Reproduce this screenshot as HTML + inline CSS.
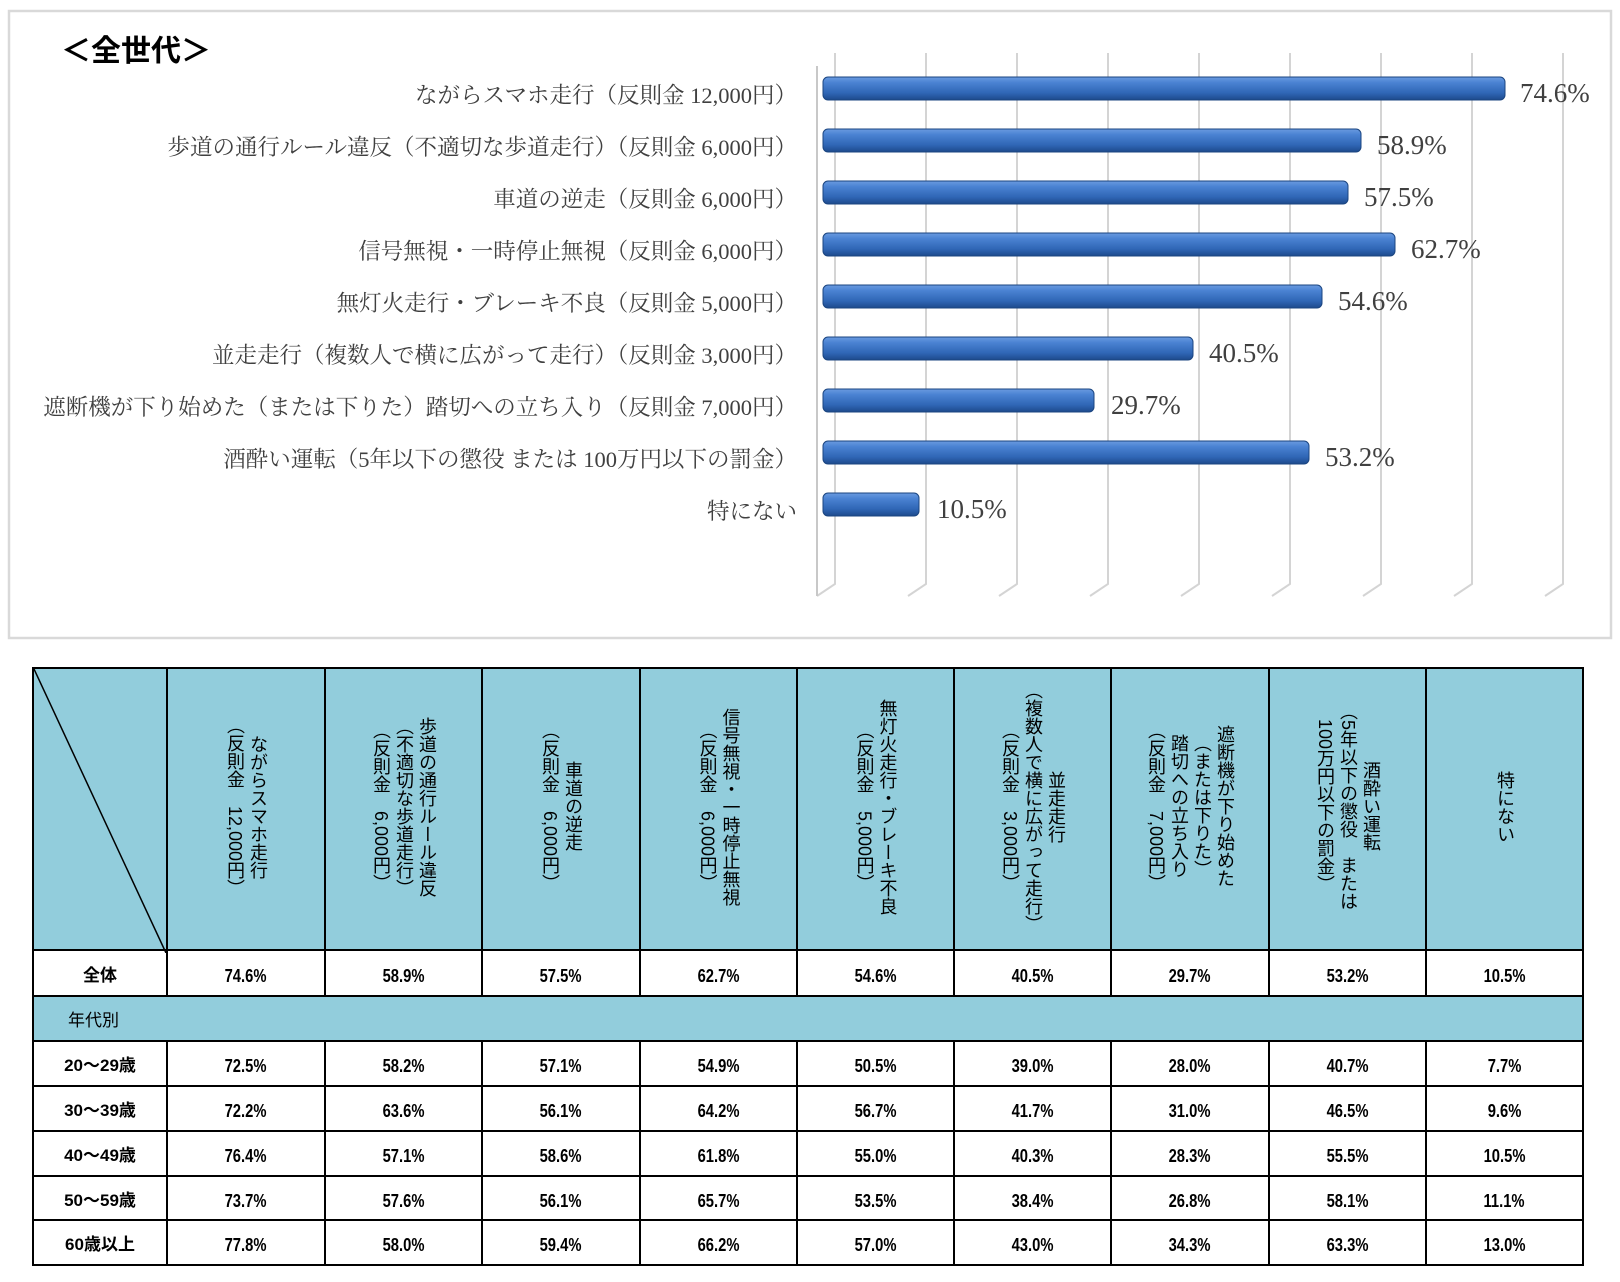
<!DOCTYPE html>
<html><head><meta charset="utf-8"><style>
body{margin:0;width:1620px;height:1282px;background:#fff;position:relative;overflow:hidden;font-family:"Liberation Sans","Noto Sans CJK JP",sans-serif}
svg{position:absolute;left:0;top:0}
table{position:absolute;left:32px;top:667px;border-collapse:collapse;table-layout:fixed;width:1551px}
td{border:2px solid #000;padding:0;text-align:center;font-size:17px;color:#000}
.h td{background:#92cddc;height:280px}
.h td div{writing-mode:vertical-rl;font-size:18px;line-height:23px;margin:auto;text-align:center;display:inline-block}
.n{display:inline-block;transform:scaleX(0.82);font-weight:bold;font-size:18px;font-family:"Liberation Sans",sans-serif;position:relative;top:3px}
td.l{font-weight:bold;font-size:17px}
</style></head><body>
<svg width="1620" height="650" xmlns="http://www.w3.org/2000/svg">
<defs>
<linearGradient id="bg" x1="0" y1="0" x2="0" y2="1">
<stop offset="0" stop-color="#6a9be0"/><stop offset="0.25" stop-color="#4a82d2"/><stop offset="0.7" stop-color="#2f66b5"/><stop offset="1" stop-color="#1d4a8c"/></linearGradient>
</defs>
<rect x="9" y="11" width="1602" height="627" fill="#fff" stroke="#d9d9d9" stroke-width="2.5"/>
<text x="61" y="61" font-size="30" font-weight="bold" font-family="'Liberation Sans','Noto Sans CJK JP',sans-serif" fill="#000">＜全世代＞</text>
<g stroke="#d4d4d4" stroke-width="2" fill="none">
<path d="M835 53V584L817 596"/><path d="M926 53V584L908 596"/><path d="M1017 53V584L999 596"/><path d="M1108 53V584L1090 596"/><path d="M1199 53V584L1181 596"/><path d="M1290 53V584L1272 596"/><path d="M1381 53V584L1363 596"/><path d="M1472 53V584L1454 596"/><path d="M1563 53V584L1545 596"/>
<path d="M817 66V596" stroke="#c8c8c8"/>
</g>
<g font-family="'Liberation Serif','Noto Serif CJK JP',serif" font-size="22.5" fill="#404040" text-anchor="end">
<text x="797" y="103">ながらスマホ走行（反則金 12,000円）</text>
<text x="797" y="155">歩道の通行ルール違反（不適切な歩道走行）（反則金 6,000円）</text>
<text x="797" y="207">車道の逆走（反則金 6,000円）</text>
<text x="797" y="259">信号無視・一時停止無視（反則金 6,000円）</text>
<text x="797" y="311">無灯火走行・ブレーキ不良（反則金 5,000円）</text>
<text x="797" y="363">並走走行（複数人で横に広がって走行）（反則金 3,000円）</text>
<text x="797" y="415">遮断機が下り始めた（または下りた）踏切への立ち入り（反則金 7,000円）</text>
<text x="797" y="467">酒酔い運転（5年以下の懲役 または 100万円以下の罰金）</text>
<text x="797" y="519">特にない</text>
</g>
<g stroke="#1b4580" stroke-width="1" fill="url(#bg)">
<rect x="823" y="77" width="682" height="23" rx="5"/>
<rect x="823" y="129" width="538" height="23" rx="5"/>
<rect x="823" y="181" width="525" height="23" rx="5"/>
<rect x="823" y="233" width="572" height="23" rx="5"/>
<rect x="823" y="285" width="499" height="23" rx="5"/>
<rect x="823" y="337" width="370" height="23" rx="5"/>
<rect x="823" y="389" width="271" height="23" rx="5"/>
<rect x="823" y="441" width="486" height="23" rx="5"/>
<rect x="823" y="493" width="96" height="23" rx="5"/>
</g>
<g font-family="'Liberation Serif',serif" font-size="27" fill="#404040">
<text x="1520" y="102">74.6%</text>
<text x="1377" y="154">58.9%</text>
<text x="1364" y="206">57.5%</text>
<text x="1411" y="258">62.7%</text>
<text x="1338" y="310">54.6%</text>
<text x="1209" y="362">40.5%</text>
<text x="1111" y="414">29.7%</text>
<text x="1325" y="466">53.2%</text>
<text x="937" y="518">10.5%</text>
</g>
</svg>
<table>
<colgroup><col style="width:134px"><col style="width:158px"><col style="width:157px"><col style="width:158px"><col style="width:157px"><col style="width:157px"><col style="width:157px"><col style="width:158px"><col style="width:157px"><col style="width:157px"></colgroup>
<tr class="h"><td style="position:relative"><svg width="134" height="284" style="position:absolute;left:0;top:0"><line x1="0" y1="0" x2="132" y2="284" stroke="#000" stroke-width="1.5"/></svg></td>
<td><div>ながらスマホ走行<br>（反則金　12,000円）</div></td>
<td><div>歩道の通行ルール違反<br>（不適切な歩道走行）<br>（反則金　6,000円）</div></td>
<td><div>車道の逆走<br>（反則金　6,000円）</div></td>
<td><div>信号無視・一時停止無視<br>（反則金　6,000円）</div></td>
<td><div>無灯火走行・ブレーキ不良<br>（反則金　5,000円）</div></td>
<td><div>並走走行<br>（複数人で横に広がって走行）<br>（反則金　3,000円）</div></td>
<td><div>遮断機が下り始めた<br>（または下りた）<br>踏切への立ち入り<br>（反則金　7,000円）</div></td>
<td><div>酒酔い運転<br>（5年以下の懲役　または<br>100万円以下の罰金）</div></td>
<td><div>特にない</div></td></tr>
<tr style="height:46px"><td class="l">全体</td><td><span class="n">74.6%</span></td><td><span class="n">58.9%</span></td><td><span class="n">57.5%</span></td><td><span class="n">62.7%</span></td><td><span class="n">54.6%</span></td><td><span class="n">40.5%</span></td><td><span class="n">29.7%</span></td><td><span class="n">53.2%</span></td><td><span class="n">10.5%</span></td></tr>
<tr style="height:45px"><td colspan="10" style="background:#92cddc;text-align:left;padding-left:34px;font-size:17px">年代別</td></tr>
<tr style="height:45px"><td class="l">20～29歳</td><td><span class="n">72.5%</span></td><td><span class="n">58.2%</span></td><td><span class="n">57.1%</span></td><td><span class="n">54.9%</span></td><td><span class="n">50.5%</span></td><td><span class="n">39.0%</span></td><td><span class="n">28.0%</span></td><td><span class="n">40.7%</span></td><td><span class="n">7.7%</span></td></tr>
<tr style="height:45px"><td class="l">30～39歳</td><td><span class="n">72.2%</span></td><td><span class="n">63.6%</span></td><td><span class="n">56.1%</span></td><td><span class="n">64.2%</span></td><td><span class="n">56.7%</span></td><td><span class="n">41.7%</span></td><td><span class="n">31.0%</span></td><td><span class="n">46.5%</span></td><td><span class="n">9.6%</span></td></tr>
<tr style="height:45px"><td class="l">40～49歳</td><td><span class="n">76.4%</span></td><td><span class="n">57.1%</span></td><td><span class="n">58.6%</span></td><td><span class="n">61.8%</span></td><td><span class="n">55.0%</span></td><td><span class="n">40.3%</span></td><td><span class="n">28.3%</span></td><td><span class="n">55.5%</span></td><td><span class="n">10.5%</span></td></tr>
<tr style="height:44px"><td class="l">50～59歳</td><td><span class="n">73.7%</span></td><td><span class="n">57.6%</span></td><td><span class="n">56.1%</span></td><td><span class="n">65.7%</span></td><td><span class="n">53.5%</span></td><td><span class="n">38.4%</span></td><td><span class="n">26.8%</span></td><td><span class="n">58.1%</span></td><td><span class="n">11.1%</span></td></tr>
<tr style="height:45px"><td class="l">60歳以上</td><td><span class="n">77.8%</span></td><td><span class="n">58.0%</span></td><td><span class="n">59.4%</span></td><td><span class="n">66.2%</span></td><td><span class="n">57.0%</span></td><td><span class="n">43.0%</span></td><td><span class="n">34.3%</span></td><td><span class="n">63.3%</span></td><td><span class="n">13.0%</span></td></tr>
</table>
</body></html>
